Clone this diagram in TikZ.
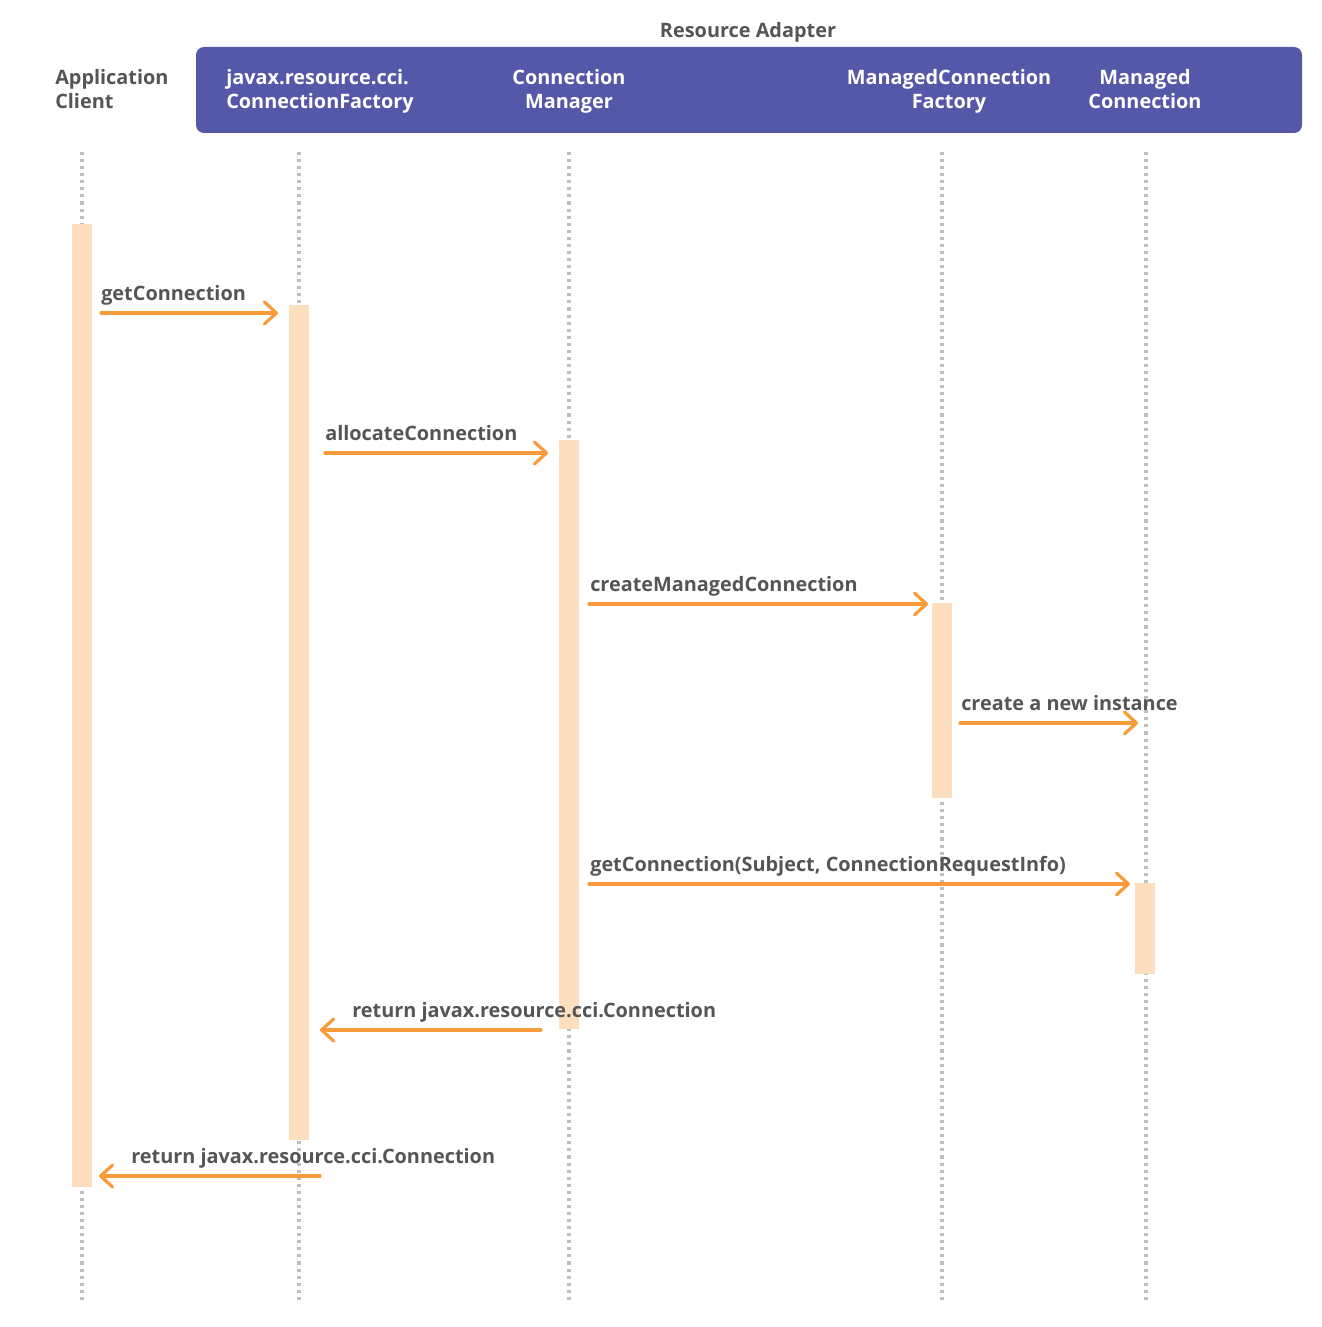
\documentclass[tikz,border=0pt]{standalone}
\usepackage{fontspec}
\setmainfont{Open Sans}
\usetikzlibrary{arrows.meta}
\definecolor{adapter}{RGB}{85,88,168}
\definecolor{msgcol}{RGB}{249,155,59}
\definecolor{actcol}{RGB}{253,223,192}
\definecolor{txtcol}{RGB}{85,85,85}
\tikzset{
	head/.style={text=white, align=center, inner sep=0pt},
	life/.style={draw=black!25, line width=2.3pt, dash pattern=on 2.3pt off 3pt},
	bar/.style={fill=actcol},
	msg/.style={draw=msgcol, line width=2.4pt, line cap=round, -{Straight Barb[round,length=9pt,width=16.5pt]}},
	lbl/.style={text=txtcol, anchor=base west, inner sep=0pt}
}
\begin{document}
\begin{tikzpicture}[x=0.75pt, y=-0.75pt, font=\bfseries\fontsize{14.9}{18}\selectfont]
		\useasboundingbox (0,0) rectangle (1321,1327);
		\fill [adapter, rounded corners=6pt](196,47) rectangle (1302,133);
		\node (ra) at (748,32) [text=txtcol] {Resource Adapter};

		\node (app) at (55,89)  [head, text=txtcol, align=left, anchor=west] {Application\\Client};
		\node (cf)  at (226,91) [head, align=left, anchor=west] {javax.resource.cci.\\ConnectionFactory};
		\node (cm)  at (569,91) [head] {Connection\\Manager};
		\node (mcf) at (949,91) [head] {ManagedConnection\\Factory};
		\node (mc)  at (1145,89)[head] {Managed\\Connection};

		\foreach \x in {82,299,569,942,1146}
			\draw [life](\x,152) -- (\x,1300);

		\fill [bar](72,224) rectangle (92,1187);
		\fill [bar](289,305) rectangle (309,1140);
		\fill [bar](559,440) rectangle (579,1029);
		\fill [bar](932,603) rectangle (952,798);
		\fill [bar](1135,883) rectangle (1155,974);

		\coordinate (m1) at (101,313);  \coordinate (m1e) at (278,313);
		\coordinate (m2) at (325,453);  \coordinate (m2e) at (548,453);
		\coordinate (m3) at (589,604);  \coordinate (m3e) at (928,604);
		\coordinate (m4) at (960,723);  \coordinate (m4e) at (1138,723);
		\coordinate (m5) at (589,884);  \coordinate (m5e) at (1130,884);
		\coordinate (r1) at (541,1030); \coordinate (r1e) at (320,1030);
		\coordinate (r2) at (320,1176); \coordinate (r2e) at (99,1176);

		\draw [msg](m1) -- (m1e);
		\draw [msg](m2) -- (m2e);
		\draw [msg](m3) -- (m3e);
		\draw [msg](m4) -- (m4e);
		\draw [msg](m5) -- (m5e);
		\draw [msg](r1) -- (r1e);
		\draw [msg](r2) -- (r2e);

		\path (m1)++(0,-13)  node[lbl](l1){getConnection};
		\path (m2)++(0,-13)  node[lbl](l2){allocateConnection};
		\path (m3)++(1,-13)  node[lbl](l3){createManagedConnection};
		\path (m4)++(1,-13)  node[lbl](l4){create a new instance};
		\path (m5)++(1,-13)  node[lbl](l5){getConnection(Subject, ConnectionRequestInfo)};
		\path (r1e)++(32,-13) node[lbl](l6){return javax.resource.cci.Connection};
		\path (r2e)++(32,-13) node[lbl](l7){return javax.resource.cci.Connection};
	\end{tikzpicture}
\end{document}
